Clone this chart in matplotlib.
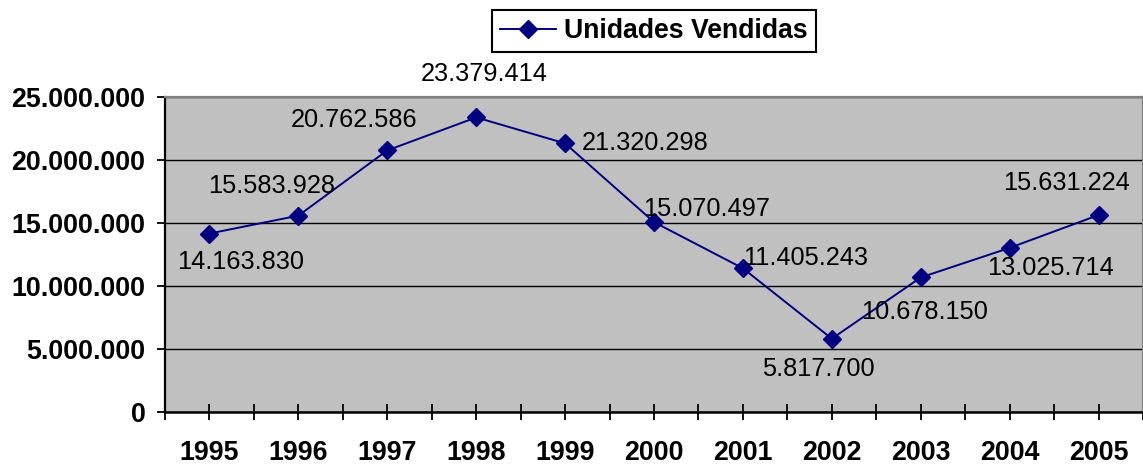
import matplotlib
matplotlib.use("Agg")
import matplotlib.pyplot as plt
from matplotlib.ticker import FuncFormatter, MultipleLocator

plt.rcParams['font.family'] = ['Liberation Sans', 'DejaVu Sans']

# ---- data ----
years = ["1995", "1996", "1997", "1998", "1999", "2000",
         "2001", "2002", "2003", "2004", "2005"]
units_sold = [14163830, 15583928, 20762586, 23379414, 21320298, 15070497,
              11405243, 5817700, 10678150, 13025714, 15631224]
series_name = "Unidades Vendidas"

# ---- label placement (pixel offsets from each point, layout only) ----
label_offsets = [(31, -28), (-27, 30), (-33, 30), (8, 43), (80, 0), (53, 13),
                 (63, 10), (-13, -30), (4, -35), (41, -20), (-32, 32)]

def fmt_thousands(v, pos=None):
    return f"{int(round(v)):,}".replace(",", ".")

fig = plt.figure(figsize=(11.43, 4.67), dpi=100)
ax = fig.add_axes([165 / 1143, 1 - 412 / 467, 978 / 1143, 315 / 467])
ax.set_facecolor("#C0C0C0")

x = list(range(len(years)))
line, = ax.plot(x, units_sold, color="#000080", linewidth=1.4, marker="D",
                markersize=9, markerfacecolor="#000080",
                markeredgecolor="#000080", label=series_name, zorder=3)

for xi, v, (dx, dy) in zip(x, units_sold, label_offsets):
    ax.annotate(fmt_thousands(v), (xi, v), xytext=(dx, dy),
                textcoords="offset pixels", ha="center", va="center",
                fontsize=18.3, color="black", zorder=4, annotation_clip=False)

ax.set_xlim(-0.5, len(years) - 0.5)
ax.set_ylim(0, 25000000)
ax.yaxis.set_major_locator(MultipleLocator(5000000))
ax.yaxis.set_major_formatter(FuncFormatter(fmt_thousands))
ax.grid(axis="y", color="black", linewidth=1.0, zorder=1)
ax.set_axisbelow(True)

# x ticks: labelled marks at categories, extra marks between categories
ax.set_xticks(x)
ax.set_xticklabels(years, fontsize=19.3, fontweight="bold")
ax.set_xticks([i - 0.5 for i in range(len(years) + 1)], minor=True)
ax.tick_params(axis="x", which="both", direction="inout", length=12,
               width=1.3, color="black")
ax.tick_params(axis="x", which="major", pad=14)

ax.tick_params(axis="y", direction="out", length=6, width=1.3, pad=8,
               labelsize=19.3, color="black")
for lab in ax.get_yticklabels():
    lab.set_fontweight("bold")

ax.spines["left"].set_color("black")
ax.spines["left"].set_linewidth(1.6)
ax.spines["bottom"].set_color("black")
ax.spines["bottom"].set_linewidth(1.8)
ax.spines["top"].set_color("#808080")
ax.spines["top"].set_linewidth(1.6)
ax.spines["right"].set_color("#808080")
ax.spines["right"].set_linewidth(1.6)

leg = fig.legend(handles=[line], loc="center",
                 bbox_to_anchor=(654 / 1143, 1 - 31 / 467),
                 prop={"size": 19.2, "weight": "bold"},
                 frameon=True, fancybox=False, shadow=False,
                 handlelength=2.1, handletextpad=0.3, borderpad=0.3,
                 borderaxespad=0)
leg.get_frame().set_edgecolor("black")
leg.get_frame().set_linewidth(1.5)
leg.get_frame().set_facecolor("white")
leg.get_frame().set_alpha(1)

fig.savefig("out.png", dpi=100)
